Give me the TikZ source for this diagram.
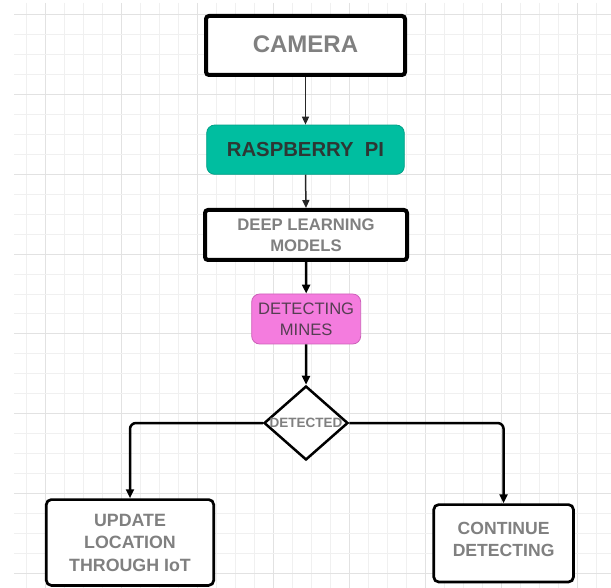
\documentclass[tikz,border=0pt]{standalone}
\usepackage{fontspec}
\setmainfont{Liberation Sans}
\usetikzlibrary{shapes.geometric,arrows.meta}
\definecolor{gridminor}{RGB}{240,240,240}
\definecolor{gridmajor}{RGB}{226,226,226}
\definecolor{tealfill}{RGB}{0,190,160}
\definecolor{tealline}{RGB}{0,160,135}
\definecolor{pinkfill}{RGB}{244,124,222}
\definecolor{pinkline}{RGB}{205,95,185}
\definecolor{graytext}{RGB}{128,128,128}
\definecolor{darktext}{RGB}{45,55,52}
\definecolor{pinktext}{RGB}{85,62,82}
\tikzset{
  heavybox/.style={draw=black, line width=4pt, rounded corners=3pt, fill=white, inner sep=0pt},
  lightbox/.style={draw=black, line width=2.7pt, rounded corners=5pt, fill=white, inner sep=0pt, align=center},
  colbox/.style={line width=0.8pt, rounded corners=8pt, inner sep=0pt, align=center},
  graylabel/.style={text=graytext, font=\bfseries},
  thinarrow/.style={draw=black!85, line width=1.5pt, -{Triangle[length=8pt,width=7pt]}},
  thickarrow/.style={draw=black, line width=2.5pt, -{Triangle[length=9pt,width=8pt]}, rounded corners=6pt},
}
\begin{document}
\begin{tikzpicture}[x=1pt,y=-1pt]
\useasboundingbox (0,0) rectangle (611,588);
\fill[white] (0,0) rectangle (611,588);
% grid
\foreach \i in {0,...,30} {
  \pgfmathsetmacro{\xx}{26+19*\i}
  \pgfmathtruncatemacro{\mm}{mod(\i+3,4)}
  \ifnum\mm=0
    \draw[gridmajor, line width=1pt] (\xx,3) -- (\xx,588);
  \else
    \draw[gridminor, line width=1pt] (\xx,3) -- (\xx,588);
  \fi
}
\foreach \j in {0,...,28} {
  \pgfmathsetmacro{\yy}{15+19.93*\j}
  \pgfmathtruncatemacro{\mm}{mod(\j,4)}
  \ifnum\mm=0
    \draw[gridmajor, line width=1pt] (14,\yy) -- (611,\yy);
  \else
    \draw[gridminor, line width=1pt] (14,\yy) -- (611,\yy);
  \fi
}
% nodes
\node[heavybox, minimum width=199pt, minimum height=59pt, graylabel, font=\bfseries\fontsize{24}{28}\selectfont, text depth=3pt] (cam) at (305.5,45.5) {CAMERA};
\node[colbox, draw=tealline, fill=tealfill, minimum width=197.6pt, minimum height=49.3pt, text=darktext, font=\bfseries\fontsize{20.3}{24}\selectfont] (rpi) at (305.5,149.7) {RASPBERRY\ \ PI};
\node[heavybox, align=center, minimum width=202pt, minimum height=50pt, graylabel, font=\bfseries\fontsize{16.7}{21}\selectfont] (dl) at (306,235) {DEEP LEARNING\\MODELS};
\node[colbox, draw=pinkline, fill=pinkfill, minimum width=109pt, minimum height=50pt, text=pinktext, font=\fontsize{16.6}{20.7}\selectfont] (dm) at (306.2,319) {DETECTING\\MINES};
\node[diamond, draw=black, line width=2.5pt, fill=white, inner sep=0pt, minimum width=84pt, minimum height=74pt, graylabel, font=\bfseries\fontsize{13.5}{15}\selectfont] (dia) at (306,423) {\makebox[0pt]{DETECTED}};
\node[lightbox, minimum width=167.4pt, minimum height=85.8pt, graylabel, font=\bfseries\fontsize{17.8}{22.5}\selectfont] (upd) at (130,542.5) {UPDATE\\LOCATION\\THROUGH IoT};
\node[lightbox, minimum width=139.7pt, minimum height=77.4pt, graylabel, font=\bfseries\fontsize{17.6}{21.7}\selectfont, text depth=8pt] (cont) at (503.6,543.3) {CONTINUE\\DETECTING};
% connectors
\draw[thinarrow] (cam.south) -- (rpi.north);
\draw[thinarrow] (rpi.south) -- (dl.north);
\draw[thickarrow] (dl.south) -- (dm.north);
\draw[thickarrow] (dm.south) -- (dia.north);
\draw[thickarrow] (dia.west) -| (upd.north);
\draw[thickarrow] (dia.east) -| (cont.north);
\end{tikzpicture}
\end{document}
